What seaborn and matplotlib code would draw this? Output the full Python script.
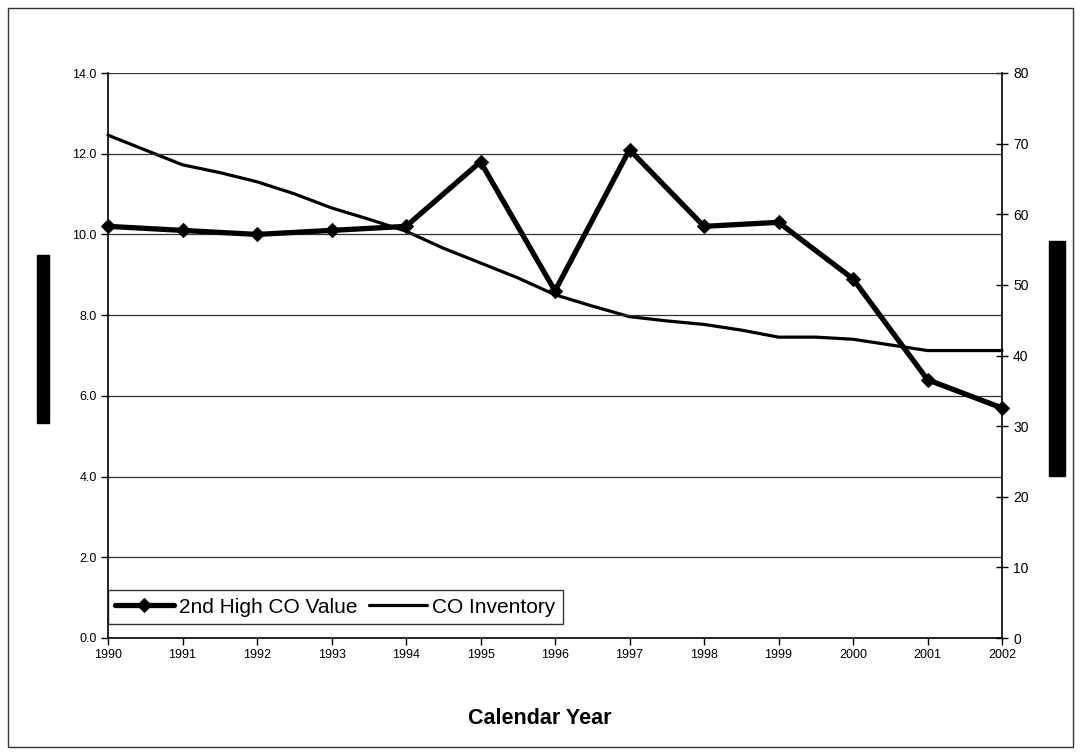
import matplotlib
matplotlib.use('Agg')
import matplotlib.pyplot as plt
from matplotlib.patches import Rectangle
import seaborn as sns
import pandas as pd

# Дані
years = [1990, 1991, 1992, 1993, 1994, 1995, 1996, 1997, 1998, 1999, 2000, 2001, 2002]
co_value = [10.2, 10.1, 10.0, 10.1, 10.2, 11.8, 8.6, 12.1, 10.2, 10.3, 8.9, 6.4, 5.7]

inv_years = [1990, 1990.5, 1991, 1991.5, 1992, 1992.5, 1993, 1993.5, 1994, 1994.5,
             1995, 1995.5, 1996, 1996.5, 1997, 1997.5, 1998, 1998.5, 1999, 1999.5,
             2000, 2000.5, 2001, 2001.5, 2002]
co_inventory = [71.2, 69.1, 67.0, 65.9, 64.6, 62.9, 60.9, 59.3, 57.6, 55.2,
                53.1, 51.0, 48.6, 47.0, 45.5, 44.9, 44.4, 43.6, 42.6, 42.6,
                42.3, 41.5, 40.7, 40.7, 40.7]

left_ticks = [0, 2, 4, 6, 8, 10, 12, 14]
right_ticks = [0, 10, 20, 30, 40, 50, 60, 70, 80]

df_val = pd.DataFrame({'year': years, 'value': co_value})
df_inv = pd.DataFrame({'year': inv_years, 'inventory': co_inventory})

sns.set_style("white")
plt.rcParams['font.family'] = ['Liberation Sans', 'DejaVu Sans']
plt.rcParams['text.color'] = 'black'
plt.rcParams['xtick.color'] = 'black'
plt.rcParams['ytick.color'] = 'black'

fig = plt.figure(figsize=(10.81, 7.55), dpi=100)
ax = fig.add_axes([108 / 1081, 1 - 638 / 755, 894 / 1081, 565 / 755])
ax2 = ax.twinx()

# Рамка навколо всього рисунка
fig.patches.append(Rectangle((8 / 1081, 8 / 755), 1065 / 1081, 739 / 755,
                             transform=fig.transFigure, fill=False,
                             edgecolor='#333333', linewidth=1.0))
# Затерті підписи осей
fig.patches.append(Rectangle((37 / 1081, 1 - 423 / 755), 12 / 1081, 168 / 755,
                             transform=fig.transFigure, color='black'))
fig.patches.append(Rectangle((1049 / 1081, 1 - 476 / 755), 16 / 1081, 235 / 755,
                             transform=fig.transFigure, color='black'))

sns.lineplot(data=df_val, x='year', y='value', ax=ax, color='black', linewidth=3.8,
             marker='D', markersize=7, markeredgecolor='black', label='2nd High CO Value',
             legend=False, zorder=5, clip_on=False)
sns.lineplot(data=df_inv, x='year', y='inventory', ax=ax2, color='black', linewidth=2.3,
             label='CO Inventory', legend=False, clip_on=False)

ax.set_zorder(ax2.get_zorder() + 1)
ax.patch.set_visible(False)

ax.set_xlim(1990, 2002)
ax.set_ylim(0, 14)
ax2.set_ylim(0, 80)
ax.set_xticks(years)
ax.set_xticklabels([str(y) for y in years])
ax.set_yticks(left_ticks)
ax.set_yticklabels([f'{t:.1f}' for t in left_ticks])
ax2.set_yticks(right_ticks)

ax.yaxis.grid(True, color='#333333', linewidth=0.9)
ax.xaxis.grid(False)
ax2.grid(False)

for a in (ax, ax2):
    for s in a.spines.values():
        s.set_visible(False)
ax.spines['left'].set_visible(True)
ax.spines['bottom'].set_visible(True)
ax2.spines['right'].set_visible(True)
for s in (ax.spines['left'], ax.spines['bottom'], ax2.spines['right']):
    s.set_color('black')
    s.set_linewidth(1.2)

ax.tick_params(axis='both', direction='out', length=5, width=1, color='black',
               labelcolor='black', labelsize=9, left=True, bottom=True, pad=3)
ax2.tick_params(axis='y', direction='inout', length=8, width=1, color='black',
                labelcolor='black', labelsize=10, right=True, pad=4)

ax.set_xlabel('')
ax.set_ylabel('')
ax2.set_ylabel('')
fig.text(540 / 1081, 1 - 718 / 755, 'Calendar Year', ha='center', va='center',
         fontsize=15.5, fontweight='bold', color='black')

h1, l1 = ax.get_legend_handles_labels()
h2, l2 = ax2.get_legend_handles_labels()
leg = ax.legend(h1 + h2, l1 + l2, loc='lower left', bbox_to_anchor=(0.0, 0.025),
                borderaxespad=0, ncol=2, fontsize=15, frameon=True, fancybox=False,
                edgecolor='black', handlelength=2.8, handletextpad=0.25,
                columnspacing=0.55, borderpad=0.35)
leg.get_frame().set_linewidth(1.0)
for t in leg.get_texts():
    t.set_color('black')
leg.set_zorder(10)

fig.savefig('out.png', dpi=100, facecolor='white')
plt.close(fig)
